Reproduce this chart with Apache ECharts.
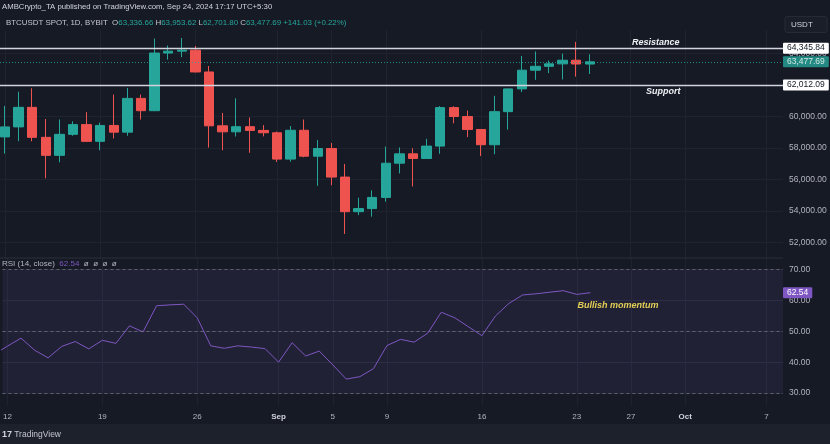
<!DOCTYPE html>
<html><head><meta charset="utf-8">
<script src="https://cdn.jsdelivr.net/npm/echarts@6/dist/echarts.min.js"></script>
<style>html,body{margin:0;padding:0;background:#161a25;}#c{width:830px;height:444px;}</style>
</head><body><div id="c"></div>
<script>
// Day index: 0 = Aug 12, 2024 (daily candles, BTCUSDT 1D)
const candleDays = [0,1,2,3,4,5,6,7,8,9,10,11,12,13,14,15,16,17,18,19,20,21,22,23,24,25,26,27,28,29,30,31,32,33,34,35,36,37,38,39,40,41,42,43];
const opens  = [58712,59346,60587,58683,57541,58874,59491,58427,59438,59013,61156,60375,64037,64157,64220,62834,59415,59034,59359,59123,58973,57301,59132,57487,57971,56160,53962,54160,54869,57042,57635,57340,58127,60571,60005,59182,58213,60313,61759,62947,63193,63348,63578,63336.66];
const closes = [59346,60587,58683,57541,58874,59491,58427,59438,59013,61156,60375,64037,64157,64220,62834,59415,59034,59359,59123,58973,57301,59132,57487,57971,56160,53962,54160,54869,57042,57635,57340,58127,60571,60005,59182,58213,60313,61759,62947,63193,63348,63578,63339,63477.69];
const lows   = [57650,58440,58433,56078,57098,58785,58408,57862,58610,58783,59815,60342,63619,63773,62800,58034,57860,58737,57701,58744,57120,57136,57415,55606,55643,52550,53745,53648,54596,56393,55567,57324,57639,59573,58696,57493,57610,59174,61555,62333,62758,62357,62538,62701.80];
const highs  = [60680,61578,61800,59849,59817,59700,60284,59615,61396,61820,61400,64955,64513,64996,64481,63212,60234,61166,59944,59462,59054,59403,59815,58519,58327,56995,54850,55317,58100,58040,57991,58588,60670,60656,60381,59210,61320,61786,63850,64133,63559,64000,64745,63953.62];

const rsiDays   = [-1,0,1,2,3,4,5,6,7,8,9,10,11,12,13,14,15,16,17,18,19,20,21,22,23,24,25,26,27,28,29,30,31,32,33,34,35,36,37,38,39,40,41,42,43];
const rsiValues = [42.5,45.2,47.8,43.9,41.4,45.1,46.7,44.3,47.1,46.1,51.8,49.8,58.3,58.6,58.8,54.4,45.3,44.5,45.3,44.9,44.4,40.0,46.3,42.0,43.6,39.1,34.5,35.3,37.9,45.4,47.4,46.5,49.4,56.2,54.4,51.5,48.6,55.0,59.1,61.8,62.2,62.7,63.2,62.0,62.54];

const tickDays   = [0,7,14,20,24,28,35,42,46,50,56];
const tickLabels = ['12','19','26','Sep','5','9','16','23','27','Oct','7'];
const priceTicks = [52000,54000,56000,58000,60000,62000,64000];
const rsiTicks   = [30,40,50,60,70];
const rsiBand    = [30,70];
const rsiMid     = 50;

const resistance = 64345.84;
const support    = 62012.09;
const lastClose  = 63477.69;
const lastRsi    = 62.54;

const FONT = '"Liberation Sans", Arial, sans-serif';
const TXT = '#b2b5be';
const GRIDC = '#1f2330';
const UP = '#26a69a', DOWN = '#ef5350';
const fmtP = v => Number(v).toLocaleString('en-US',{minimumFractionDigits:2, maximumFractionDigits:2});

const candleData = candleDays.map((d,i) => [d, opens[i], closes[i], lows[i], highs[i]]);
const rsiData = rsiDays.map((d,i) => [d, rsiValues[i]]);

const xMin = -0.368, xMax = 57.21;

function tagLabel(bg, fg) {
  return {show:true, position:'end', distance:0, formatter: p => fmtP(p.value),
    backgroundColor:bg, color:fg, fontSize:8.5, fontFamily:FONT, padding:[1,4,1,4], borderRadius:1};
}

const chart = echarts.init(document.getElementById('c'), null, {renderer:'canvas'});
chart.setOption({
  backgroundColor:'#161a25',
  animation:false,
  grid:[
    {left:0, width:783, top:29.975, height:228.375},
    {left:0, width:783, top:257.4, height:147.9}
  ],
  xAxis:[
    {type:'value', gridIndex:0, min:xMin, max:xMax,
     axisLine:{show:false}, axisTick:{show:false, customValues:tickDays},
     axisLabel:{show:false, customValues:tickDays},
     splitLine:{show:true, lineStyle:{color:GRIDC, width:1}}},
    {type:'value', gridIndex:1, min:xMin, max:xMax,
     axisLine:{show:false}, axisTick:{show:false, customValues:tickDays},
     axisLabel:{show:true, customValues:tickDays, margin:7, color:TXT, fontSize:8, fontFamily:FONT,
       formatter: v => { const i = tickDays.indexOf(Math.round(v)); if (i<0) return ''; const t = tickLabels[i]; return (t==='Sep'||t==='Oct') ? '{b|'+t+'}' : t; },
       rich:{b:{fontWeight:'bold', color:'#d1d4dc', fontSize:8, fontFamily:FONT}}},
     splitLine:{show:true, lineStyle:{color:GRIDC, width:1}}}
  ],
  yAxis:[
    {type:'value', gridIndex:0, position:'right', min:51000, max:65500,
     axisLine:{show:false}, axisTick:{show:false, customValues:priceTicks},
     axisLabel:{customValues:priceTicks, formatter:fmtP, color:TXT, fontSize:8.5, fontFamily:FONT, margin:6},
     splitLine:{show:true, lineStyle:{color:GRIDC, width:1}}},
    {type:'value', gridIndex:1, position:'right', min:26, max:74,
     axisLine:{show:false}, axisTick:{show:false, customValues:rsiTicks},
     axisLabel:{customValues:rsiTicks, formatter:v=>Number(v).toFixed(2), color:TXT, fontSize:8.5, fontFamily:FONT, margin:6},
     splitLine:{show:true, lineStyle:{color:'#262838', width:1}}}
  ],
  series:[
    {type:'candlestick', xAxisIndex:0, yAxisIndex:0, barWidth:10, data:candleData, z:3,
     itemStyle:{color:UP, color0:DOWN, borderColor:UP, borderColor0:DOWN, borderWidth:1},
     markLine:{symbol:['none','none'], silent:true, animation:false, z:5,
       data:[
         {yAxis:lastClose, lineStyle:{color:UP, type:[1,2], width:1, opacity:0.8}, label:tagLabel(UP,'#ffffff')},
         {yAxis:resistance, lineStyle:{color:'#d1d4dc', type:'solid', width:1.3}, label:tagLabel('#ffffff','#131722')},
         {yAxis:support, lineStyle:{color:'#d1d4dc', type:'solid', width:1.3}, label:tagLabel('#ffffff','#131722')}
       ]},
     markPoint:{symbol:'circle', symbolSize:0, silent:true, animation:false,
       label:{show:true, color:'#eef0f4', fontStyle:'italic', fontWeight:'bold', fontSize:9, fontFamily:FONT},
       data:[
         {coord:[47.85, resistance], label:{formatter:'Resistance', offset:[0,-6]}},
         {coord:[48.4, support], label:{formatter:'Support', offset:[0,6.5]}}
       ]}
    },
    {type:'line', xAxisIndex:1, yAxisIndex:1, data:rsiData, showSymbol:false, z:3,
     lineStyle:{color:'#7e57c2', width:1}, itemStyle:{color:'#7e57c2'},
     markArea:{silent:true, itemStyle:{color:'rgba(126,87,194,0.11)'}, data:[[{yAxis:rsiBand[0]},{yAxis:rsiBand[1]}]]},
     markLine:{symbol:['none','none'], silent:true, animation:false,
       data:[
         {yAxis:rsiBand[1], lineStyle:{color:'#787b86', type:[3,3], width:1, opacity:0.7}, label:{show:false}},
         {yAxis:rsiMid, lineStyle:{color:'#787b86', type:[3,3], width:1, opacity:0.7}, label:{show:false}},
         {yAxis:rsiBand[0], lineStyle:{color:'#787b86', type:[3,3], width:1, opacity:0.7}, label:{show:false}},
         {yAxis:lastRsi, lineStyle:{color:'rgba(0,0,0,0)', width:0}, label:{show:true, position:'end', distance:0, formatter:p=>Number(p.value).toFixed(2), backgroundColor:'#7e57c2', color:'#ffffff', fontSize:8.5, fontFamily:FONT, padding:[1,4,1,4], borderRadius:1}}
       ]},
     markPoint:{symbol:'circle', symbolSize:0, silent:true, animation:false,
       label:{show:true, color:'#e3cf55', fontStyle:'italic', fontWeight:'bold', fontSize:9, fontFamily:FONT},
       data:[{coord:[45.04, 58.5], label:{formatter:'Bullish momentum'}}]}
    }
  ],
  graphic:[
    {type:'line', silent:true, shape:{x1:0, y1:258, x2:783, y2:258}, style:{stroke:'#2a2e39', lineWidth:1}, z:10},
    {type:'rect', silent:true, shape:{x:0, y:424, width:830, height:20}, style:{fill:'#1d212c'}, z:1},
    {type:'text', silent:true, x:2, y:7, style:{text:'AMBCrypto_TA published on TradingView.com, Sep 24, 2024 17:17 UTC+5:30', fill:'#d1d4dc', font:'7.75px '+FONT, verticalAlign:'middle'}, z:10},
    {type:'text', silent:true, x:6, y:23, style:{
      text:'{n|BTCUSDT SPOT, 1D, BYBIT}  {n|O}{v|63,336.66} {n|H}{v|63,953.62} {n|L}{v|62,701.80} {n|C}{v|63,477.69} {v|+141.03 (+0.22%)}',
      verticalAlign:'middle', font:'7.9px '+FONT,
      rich:{n:{fill:'#c3c6ce', fontSize:7.9, fontFamily:FONT}, v:{fill:'#26a69a', fontSize:7.9, fontFamily:FONT}}}, z:10},
    {type:'rect', silent:true, shape:{x:785, y:16.5, width:42, height:16, r:2}, style:{fill:'#1a1e29', stroke:'#262a35', lineWidth:1}, z:10},
    {type:'text', silent:true, x:791, y:24.5, style:{text:'USDT', fill:'#d1d4dc', font:'8px '+FONT, verticalAlign:'middle'}, z:11},
    {type:'text', silent:true, x:2, y:264, style:{
      text:'{n|RSI (14, close)}  {p|62.54}  {n|ø  ø  ø  ø}', verticalAlign:'middle', font:'8px '+FONT,
      rich:{n:{fill:'#b2b5be', fontSize:8, fontFamily:FONT}, p:{fill:'#7e57c2', fontSize:8, fontFamily:FONT}}}, z:10},
    {type:'text', silent:true, x:2, y:435, style:{
      text:'{l|17} {t|TradingView}', verticalAlign:'middle', font:'8px '+FONT,
      rich:{l:{fill:'#d1d4dc', fontSize:9, fontWeight:'bold', fontFamily:FONT}, t:{fill:'#c3c6ce', fontSize:8.5, fontFamily:FONT}}}, z:10}
  ]
});
</script>
</body></html>
